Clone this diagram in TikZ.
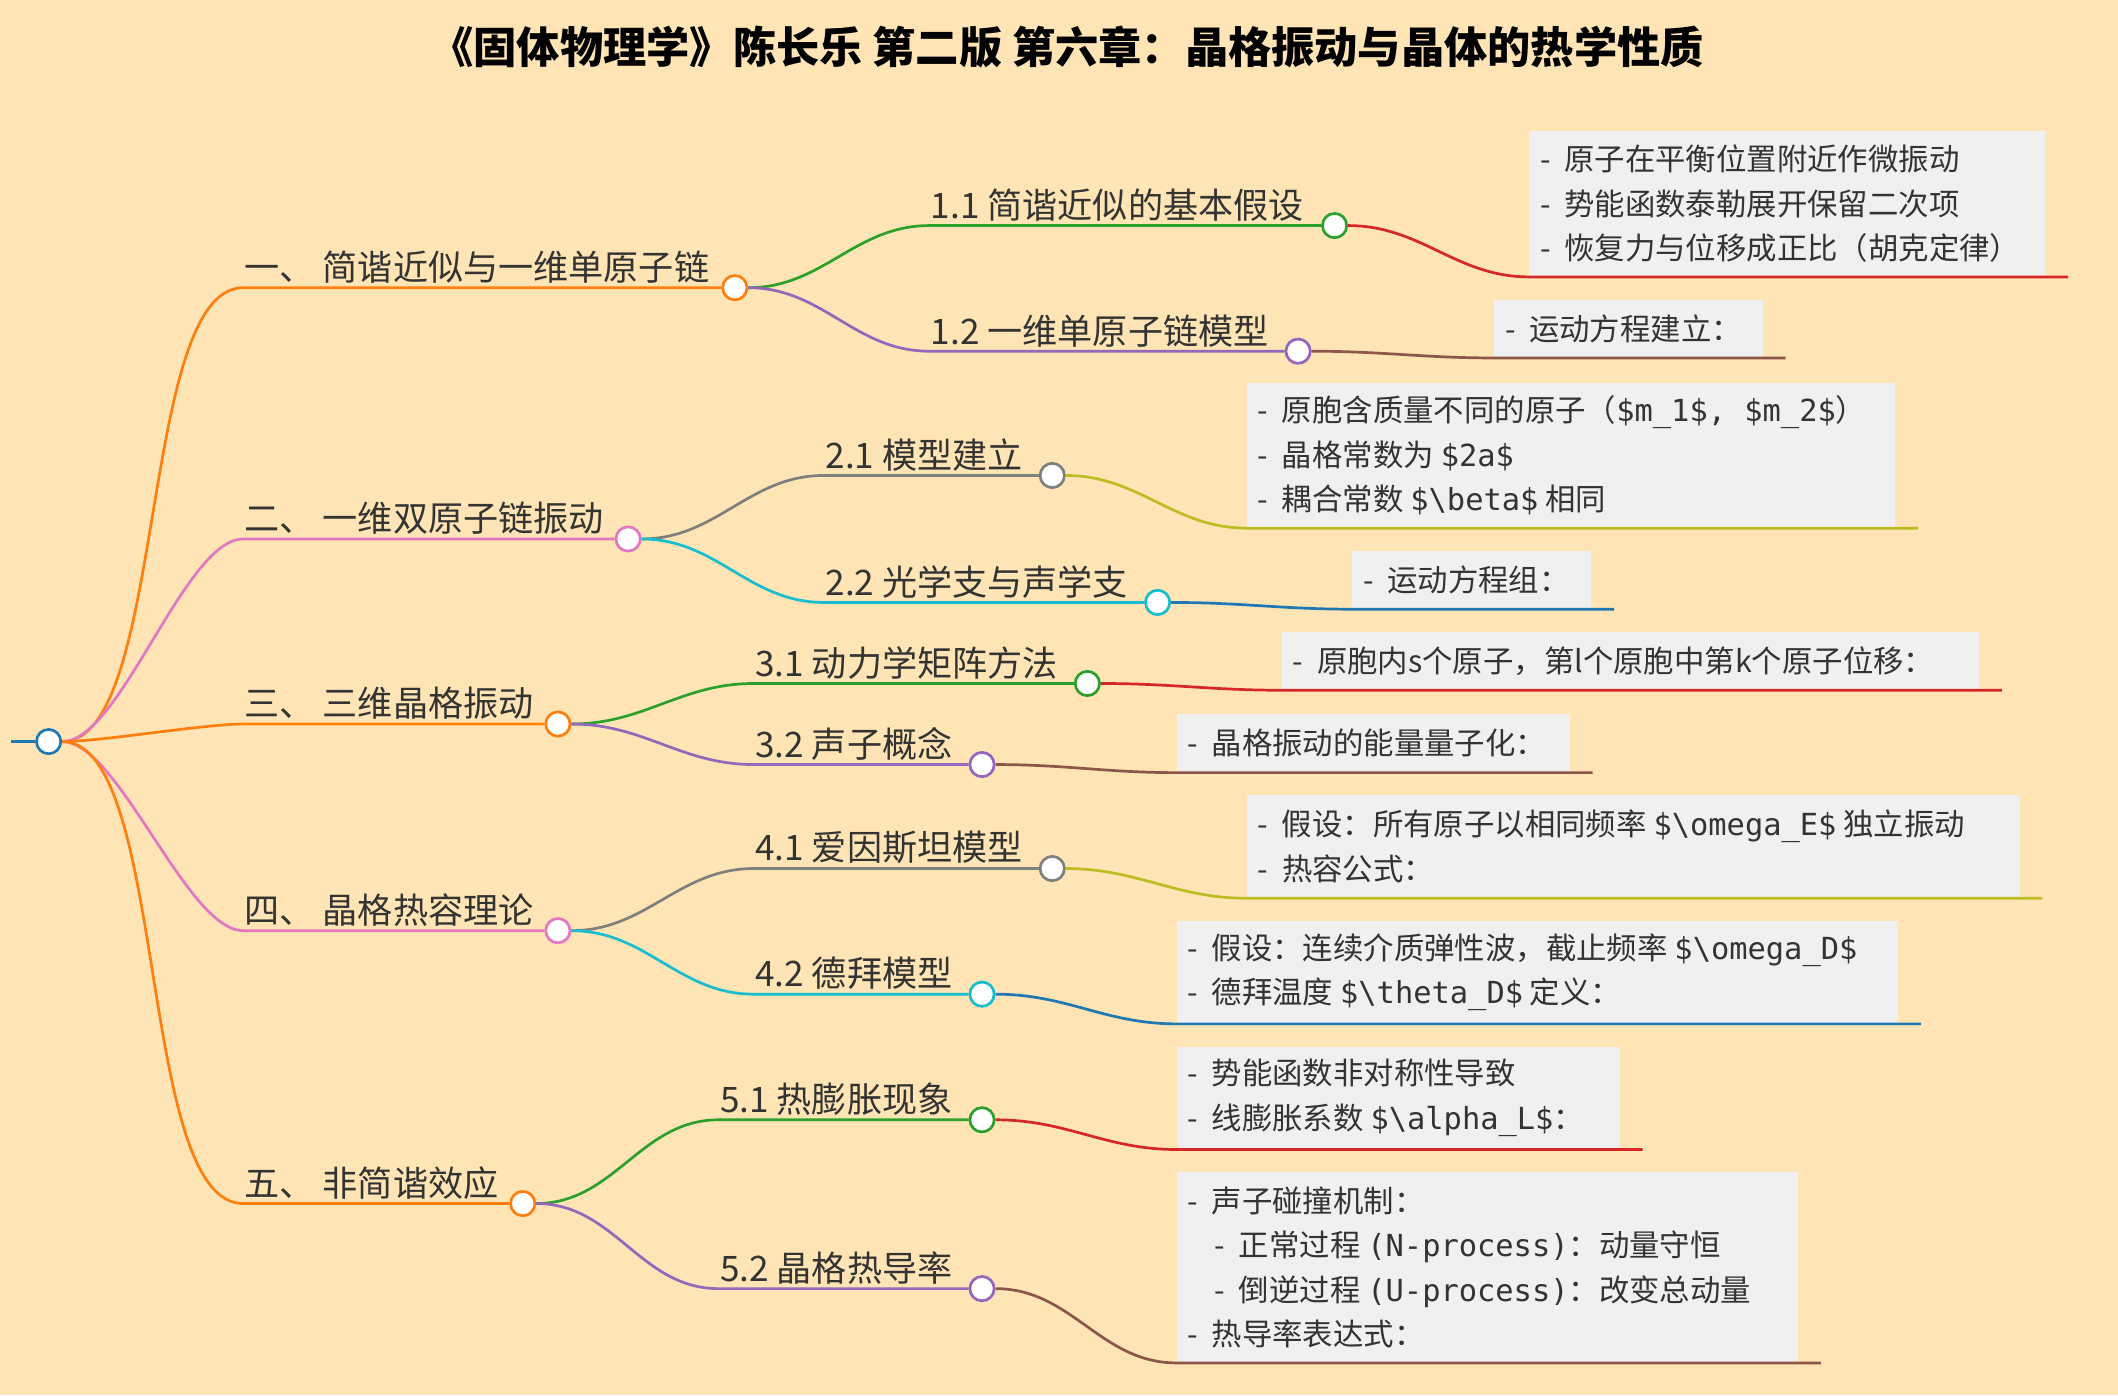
\documentclass[tikz,border=0pt]{standalone}
\usepackage{fontspec}
\setmainfont{Noto Sans CJK SC}
\setmonofont{DejaVu Sans Mono}
\newcommand\mm[1]{{\ttfamily #1}}
\definecolor{bg}{HTML}{FFE4B5}
\definecolor{cO}{HTML}{FF7F0E}\definecolor{cP}{HTML}{E377C2}\definecolor{cG}{HTML}{2CA02C}
\definecolor{cV}{HTML}{9467BD}\definecolor{cY}{HTML}{7F7F7F}\definecolor{cC}{HTML}{17BECF}
\definecolor{cR}{HTML}{D62728}\definecolor{cB}{HTML}{8C564B}\definecolor{cL}{HTML}{BCBD22}
\definecolor{cU}{HTML}{1F77B4}\definecolor{boxc}{HTML}{F0F0F0}\definecolor{txt}{HTML}{333333}
\tikzset{
 dot/.style={circle,draw=#1,fill=white,line width=2pt,minimum size=18pt,inner sep=0pt},
 ln/.style={draw=#1,line width=2pt},
 lab/.style={anchor=south west,inner sep=1pt,text=txt,font=\fontsize{26}{30}\selectfont},
 bx/.style={fill=boxc,anchor=south west,inner sep=0pt},
 bt/.style={anchor=west,align=left,text=txt,inner sep=8pt,font=\fontsize{22.5}{33}\selectfont},
 cv/.style={out=0,in=180,looseness=1},
 rcv/.style={out=0,in=180,looseness=0.55}
}
\begin{document}
\begin{tikzpicture}[x=1pt,y=-1pt]
\fill[bg] (0,0) rectangle (1568,1033);
\useasboundingbox (0,0) rectangle (1568,1033);
\node[font=\bfseries\fontsize{32}{36}\selectfont] (title) at (790,35) {《固体物理学》陈长乐 第二版 第六章：晶格振动与晶体的热学性质};
% root
\coordinate (r0) at (8,549);
\node[dot=cU] (root) at (36,549) {};
\draw[ln=cU] (r0) -- (root);
% level 1
\newcommand\one[5]{% name, y, circle x, color, text
 \coordinate (#1s) at (180,#2); \node[dot=#4] (#1) at (#3,#2) {};
 \draw[ln=#4] (root.east) to[rcv] (#1s) -- (#1.west);
 \node[lab] (#1t) at (180,#2-2) {#5};}
\one{a}{213}{544}{cO}{一、 简谐近似与一维单原子链}
\one{b}{399}{465}{cP}{二、 一维双原子链振动}
\one{c}{536}{413}{cO}{三、 三维晶格振动}
\one{d}{689}{413}{cP}{四、 晶格热容理论}
\one{e}{891}{387}{cO}{五、 非简谐效应}
% level 2
\newcommand\two[7]{% parent, name, y, startx, circle x, color, text
 \coordinate (#2s) at (#4,#3); \node[dot=#6] (#2) at (#5,#3) {};
 \draw[ln=#6] (#1.east) to[cv] (#2s) -- (#2.west);
 \node[lab] (#2t) at (#4,#3-2) {#7};}
\two{a}{a1}{167}{688}{988}{cG}{1.1 简谐近似的基本假设}
\two{a}{a2}{260}{688}{961}{cV}{1.2 一维单原子链模型}
\two{b}{b1}{352}{610}{779}{cY}{2.1 模型建立}
\two{b}{b2}{446}{610}{857}{cC}{2.2 光学支与声学支}
\two{c}{c1}{506}{558}{805}{cG}{3.1 动力学矩阵方法}
\two{c}{c2}{566}{558}{727}{cV}{3.2 声子概念}
\two{d}{d1}{643}{558}{779}{cY}{4.1 爱因斯坦模型}
\two{d}{d2}{736}{558}{727}{cC}{4.2 德拜模型}
\two{e}{e1}{829}{532}{727}{cG}{5.1 热膨胀现象}
\two{e}{e2}{954}{532}{727}{cV}{5.2 晶格热导率}
% level 3
\newcommand\three[8]{% parent, name, x, topy, boty, rightx, color, text
 \node[bx,minimum width=#6-#3,minimum height=#5-#4] (#2) at (#3,#5) {};
 \coordinate (#2e) at (#6+17,#5);
 \draw[ln=#7] (#1.east) to[cv] (#2.south west) -- (#2e);
 \node[bt] (#2t) at (#2.west) {#8};}
\three{a1}{x11}{1132}{97}{205}{1514}{cR}{-\ \ 原子在平衡位置附近作微振动\\-\ \ 势能函数泰勒展开保留二次项\\-\ \ 恢复力与位移成正比（胡克定律）}
\three{a2}{x12}{1106}{222}{265}{1305}{cB}{-\ \ 运动方程建立：}
\three{b1}{x21}{923}{284}{391}{1403}{cL}{-\ \ 原胞含质量不同的原子（\mm{\$m\_1\$, \$m\_2\$}）\\-\ \ 晶格常数为 \mm{\$2a\$}\\-\ \ 耦合常数 \mm{\$\textbackslash beta\$} 相同}
\three{b2}{x22}{1001}{408}{451}{1178}{cU}{-\ \ 运动方程组：}
\three{c1}{x31}{949}{468}{511}{1465}{cR}{-\ \ 原胞内s个原子，第l个原胞中第k个原子位移：}
\three{c2}{x32}{871}{529}{572}{1162}{cB}{-\ \ 晶格振动的能量量子化：}
\three{d1}{x41}{923}{589}{665}{1495}{cL}{-\ \ 假设：所有原子以相同频率 \mm{\$\textbackslash omega\_E\$} 独立振动\\-\ \ 热容公式：}
\three{d2}{x42}{871}{682}{758}{1405}{cU}{-\ \ 假设：连续介质弹性波，截止频率 \mm{\$\textbackslash omega\_D\$}\\-\ \ 德拜温度 \mm{\$\textbackslash theta\_D\$} 定义：}
\three{e1}{x51}{871}{775}{851}{1199}{cR}{-\ \ 势能函数非对称性导致\\-\ \ 线膨胀系数 \mm{\$\textbackslash alpha\_L\$}：}
\three{e2}{x52}{871}{868}{1009}{1331}{cB}{-\ \ 声子碰撞机制：\\\ \ \ \ -\ \ 正常过程 \mm{(N-process)}：动量守恒\\\ \ \ \ -\ \ 倒逆过程 \mm{(U-process)}：改变总动量\\-\ \ 热导率表达式：}
\end{tikzpicture}
\end{document}
